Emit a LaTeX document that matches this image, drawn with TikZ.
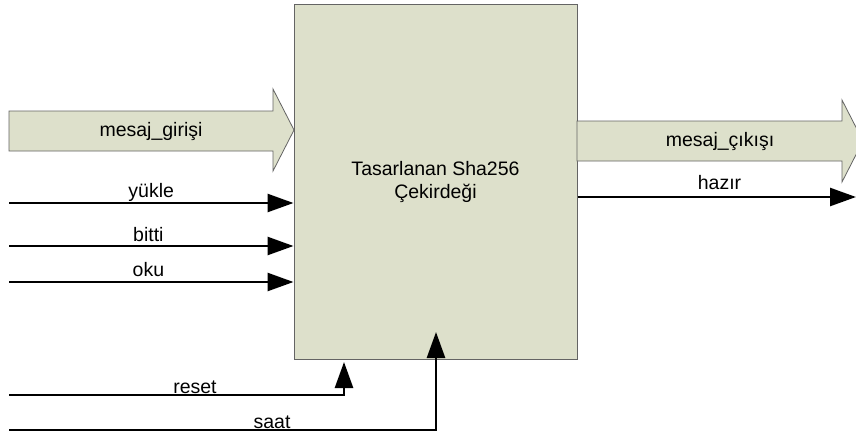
\documentclass[tikz,border=0pt]{standalone}
\usepackage{fontspec}
\setmainfont{Liberation Sans}
\usetikzlibrary{arrows.meta}
\definecolor{boxfill}{RGB}{221,224,203}
\definecolor{boxline}{RGB}{100,100,100}
\tikzset{
  sig/.style={line width=2.6pt,-{Triangle[length=26pt,width=18pt]}},
  lbl/.style={inner sep=0pt,anchor=base,font=\fontsize{19.5}{23}\selectfont},
  bigarrow/.style={fill=boxfill,draw=boxline,line width=0.8pt,line join=miter},
  core/.style={draw=boxline,fill=boxfill,line width=1pt,minimum width=283pt,minimum height=355pt,inner sep=0pt,align=center,font=\fontsize{19.5}{23}\selectfont}
}
\begin{document}
\begin{tikzpicture}[x=1pt,y=-1pt]
\useasboundingbox (0,0) rectangle (856,434);
\fill[white] (0,0) rectangle (856,434);
% core block
\node[core] (core) at (435.5,181.5) {Tasarlanan Sha256\\Çekirdeği};
% big input arrow
\draw[bigarrow] (9,111) -- (273,111) -- (273,89) -- (294,130) -- (273,171) -- (273,151) -- (9,151) -- cycle;
\node[lbl,anchor=center] (min) at (151,131) {mesaj\_girişi};
% big output arrow
\draw[bigarrow] (577,121) -- (842,121) -- (842,100) -- (863,141) -- (842,182) -- (842,161) -- (577,161) -- cycle;
\node[lbl,anchor=center] (mout) at (720,141) {mesaj\_çıkışı};
% signals
\coordinate (yuk) at (9,203);
\coordinate (bit) at (9,246);
\coordinate (oku) at (9,282);
\coordinate (rst) at (9,395);
\coordinate (clk) at (9,430);
\coordinate (rstend) at (344,362);
\coordinate (clkend) at (436,332);
\coordinate (hzr) at (856,197);
\draw[sig] (yuk) -- (yuk -| core.west) node[lbl,pos=0.5,yshift=6pt] (lyuk) {yükle};
\draw[sig] (bit) -- (bit -| core.west) node[lbl,pos=0.49,yshift=5pt] (lbit) {bitti};
\draw[sig] (oku) -- (oku -| core.west) node[lbl,pos=0.49,yshift=6pt] (loku) {oku};
\draw[sig] (hzr -| core.east) -- (hzr) node[lbl,pos=0.51,yshift=8pt] (lhzr) {hazır};
\draw[sig] (rst) -| (rstend) node[lbl,pos=0.2776,yshift=2pt] (lrst) {reset};
\draw[sig] (clk) -| (clkend) node[lbl,pos=0.308,yshift=2pt] (lclk) {saat};
\end{tikzpicture}
\end{document}
